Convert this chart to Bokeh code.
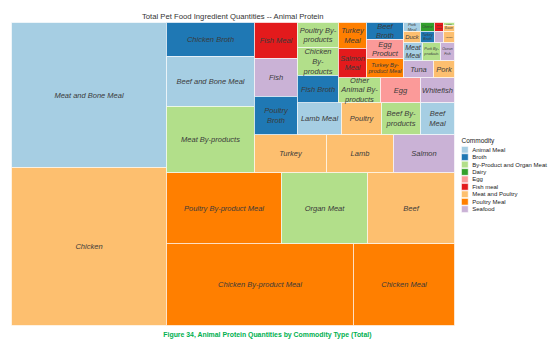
from bokeh.plotting import figure
from bokeh.models import Range1d, ColumnDataSource
from bokeh.core.properties import value, field
from bokeh.embed import file_html
from bokeh.resources import INLINE

# ---------------- data ----------------
names = ["Meat and Bone Meal", "Chicken",
         "Chicken By-product Meal", "Chicken Meal",
         "Poultry By-product Meal", "Organ Meat", "Beef",
         "Chicken Broth", "Beef and Bone Meal", "Meat By-products",
         "Turkey", "Lamb", "Salmon",
         "Fish Meal", "Fish", "Poultry Broth",
         "Lamb Meal", "Poultry", "Beef By-products", "Beef Meal",
         "Poultry By-products", "Chicken By-products", "Fish Broth",
         "Other Animal By-products", "Egg", "Whitefish",
         "Turkey Meal", "Salmon Meal",
         "Beef Broth", "Egg Product", "Turkey By-product Meal",
         "Tuna", "Pork",
         "Meat Meal", "Pork By-products", "Ocean Fish",
         "Pork Meal", "Duck",
         "Cheese", "Turkey Broth",
         "Tuna Meal", "Shrimp",
         "Liver", "Bacon", "Venison"]
values = [2247.5, 2449.0,
          1533.4, 828.2,
          816.5, 610.6, 617.7,
          299.2, 440.0, 580.8,
          273.6, 254.6, 231.8,
          154.8, 163.4, 163.4,
          140.8, 128.0, 124.8, 108.8,
          102.5, 114.8, 110.7,
          105.0, 100.0, 85.0,
          72.8, 81.2,
          62.9, 70.3, 70.3,
          51.0, 35.7,
          34.2, 32.4, 25.2,
          15.3, 18.7,
          12.6, 15.4,
          8.1, 9.9,
          3.3, 6.6, 12.1]
commodity = ["Animal Meal", "Meat and Poultry",
             "Poultry Meal", "Poultry Meal",
             "Poultry Meal", "By-Product and Organ Meat", "Meat and Poultry",
             "Broth", "Animal Meal", "By-Product and Organ Meat",
             "Meat and Poultry", "Meat and Poultry", "Seafood",
             "Fish meal", "Seafood", "Broth",
             "Animal Meal", "Meat and Poultry", "By-Product and Organ Meat", "Animal Meal",
             "By-Product and Organ Meat", "By-Product and Organ Meat", "Broth",
             "By-Product and Organ Meat", "Egg", "Seafood",
             "Poultry Meal", "Fish meal",
             "Broth", "Egg", "Poultry Meal",
             "Seafood", "Meat and Poultry",
             "Animal Meal", "By-Product and Organ Meat", "Seafood",
             "Animal Meal", "Meat and Poultry",
             "Dairy", "Broth",
             "Fish meal", "Seafood",
             "By-Product and Organ Meat", "Meat and Poultry", "Meat and Poultry"]

# order in which strips are cut from the remaining area
strip_side = ["left", "bottom", "bottom", "left", "bottom", "left", "bottom", "left",
              "bottom", "left", "left", "bottom", "bottom", "left", "left", "left", "left"]
strip_count = [2, 2, 3, 3, 3, 3, 4, 3, 3, 2, 3, 2, 3, 2, 2, 2, 3]

commodities = ["Animal Meal", "Broth", "By-Product and Organ Meat", "Dairy", "Egg",
               "Fish meal", "Meat and Poultry", "Poultry Meal", "Seafood"]
palette = ["#a6cee3", "#1f78b4", "#b2df8a", "#33a02c", "#fb9a99",
           "#e31a1c", "#fdbf6f", "#ff7f00", "#cab2d6"]

title_text = "Total Pet Food Ingredient Quantities -- Animal Protein"
legend_title = "Commodity"
caption_text = "Figure 34, Animal Protein Quantities by Commodity Type (Total)"

# ---------------- layout ----------------
W, H = 554, 348
BOX = (11, 22, 454, 325)


def treemap(vals, sides, counts, box):
    x0, y0, x1, y1 = box
    k = (x1 - x0) * (y1 - y0) / sum(vals)
    rects = []
    i = 0
    for side, n in zip(sides, counts):
        grp = vals[i:i + n]
        i += n
        s = sum(grp) * k
        if side == "left":
            t = s / (y1 - y0)
            yy = y0
            for v in grp:
                hh = v * k / t
                rects.append((x0, x0 + t, yy, yy + hh))
                yy += hh
            x0 += t
        else:
            t = s / (x1 - x0)
            xx = x0
            for v in grp:
                ww = v * k / t
                rects.append((xx, xx + ww, y1 - t, y1))
                xx += ww
            y1 -= t
    return rects


CW = {'A': 667, 'B': 667, 'C': 722, 'D': 722, 'E': 667, 'F': 611, 'G': 778, 'H': 722, 'I': 278,
      'J': 500, 'K': 667, 'L': 556, 'M': 833, 'N': 722, 'O': 778, 'P': 667, 'Q': 778, 'R': 722,
      'S': 667, 'T': 611, 'U': 722, 'V': 667, 'W': 944, 'X': 667, 'Y': 667, 'Z': 611,
      'a': 556, 'b': 556, 'c': 500, 'd': 556, 'e': 556, 'f': 278, 'g': 556, 'h': 556, 'i': 222,
      'j': 222, 'k': 500, 'l': 222, 'm': 833, 'n': 556, 'o': 556, 'p': 556, 'q': 556, 'r': 333,
      's': 500, 't': 278, 'u': 556, 'v': 500, 'w': 722, 'x': 500, 'y': 500, 'z': 500,
      ' ': 278, '-': 333}


def tw(s, size):
    return sum(CW.get(c, 556) for c in s) / 1000.0 * size


def tokens(name):
    out = []
    for wi, word in enumerate(name.split(" ")):
        parts = word.split("-")
        for pi, part in enumerate(parts):
            piece = part + ("-" if pi < len(parts) - 1 else "")
            if piece:
                out.append((piece, wi > 0 and pi == 0))
    return out


def wrap(name, size, avail):
    lines = []
    cur = ""
    for piece, sp in tokens(name):
        cand = cur + (" " if (sp and cur) else "") + piece
        if cur and tw(cand, size) > avail:
            lines.append(cur)
            cur = piece
        else:
            cur = cand
    if cur:
        lines.append(cur)
    return lines


def fit(name, w, h):
    size = 7.5
    while size >= 2.0:
        lines = wrap(name, size, w - 3)
        if max(tw(l, size) for l in lines) <= w - 3 and len(lines) * size * 1.1 <= h:
            return "\n".join(lines), size
        size -= 0.25
    return "", 2.0


rects = treemap(values, strip_side, strip_count, BOX)
cmap = dict(zip(commodities, palette))

lab, fs, lx, ly = [], [], [], []
for nm, (l, r, t, b) in zip(names, rects):
    txt, s = fit(nm, r - l, b - t)
    lab.append(txt)
    fs.append("%.2fpx" % s)
    lx.append((l + r) / 2)
    ly.append((t + b) / 2)

src = ColumnDataSource(dict(
    left=[r[0] for r in rects], right=[r[1] for r in rects],
    top=[r[2] for r in rects], bottom=[r[3] for r in rects],
    color=[cmap[c] for c in commodity], name=names, commodity=commodity,
    value=values, lab=lab, fs=fs, lx=lx, ly=ly))

p = figure(width=W, height=H, x_range=Range1d(0, W), y_range=Range1d(H, 0),
           output_backend="svg", toolbar_location=None, min_border=0,
           x_axis_location=None, y_axis_location=None)
p.grid.visible = False
p.outline_line_color = None
p.background_fill_color = "white"
p.border_fill_color = "white"

p.quad(left="left", right="right", top="top", bottom="bottom", source=src,
       fill_color="color", line_color="white", line_alpha=0.75, line_width=0.8)
p.text(x="lx", y="ly", text="lab", source=src, text_font=value("Liberation Sans"),
       text_font_style="italic", text_font_size=field("fs"), text_align="center",
       text_baseline="middle", text_color="#3a3a3a", text_line_height=1.1)

# title and caption
p.text(x=[(BOX[0] + BOX[2]) / 2], y=[16], text=[title_text], text_font=value("Liberation Sans"),
       text_font_size="7.7px", text_align="center", text_baseline="middle", text_color="#333333")
p.text(x=[267], y=[334], text=[caption_text], text_font=value("Liberation Sans"),
       text_font_style="bold", text_font_size="6.9px", text_align="center",
       text_baseline="middle", text_color="#00b050")

# legend
LX, LY0, DY = 461, 149.2, 7.43
p.text(x=[LX], y=[139.7], text=[legend_title], text_font=value("Liberation Sans"),
       text_font_size="6.5px", text_align="left", text_baseline="middle", text_color="#222222")
leg = ColumnDataSource(dict(
    x0=[LX] * len(commodities), x1=[LX + 6.7] * len(commodities),
    y0=[LY0 + i * DY - 3.3 for i in range(len(commodities))],
    y1=[LY0 + i * DY + 3.3 for i in range(len(commodities))],
    ty=[LY0 + i * DY for i in range(len(commodities))],
    tx=[LX + 10.7] * len(commodities), color=palette, lab=commodities))
p.quad(left="x0", right="x1", top="y0", bottom="y1", source=leg, fill_color="color",
       line_color="white", line_width=0.5)
p.text(x="tx", y="ty", text="lab", source=leg, text_font=value("Liberation Sans"),
       text_font_size="6px", text_align="left", text_baseline="middle", text_color="#222222")

open("out.html", "w").write(file_html(p, INLINE))
